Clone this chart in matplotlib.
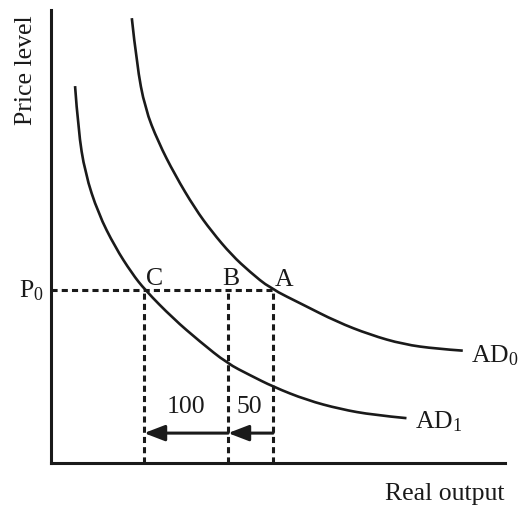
import matplotlib
matplotlib.use("Agg")
import matplotlib.pyplot as plt
from matplotlib.path import Path
from matplotlib.patches import PathPatch

plt.rcParams['font.family'] = ['Liberation Serif', 'DejaVu Serif']
plt.rcParams['mathtext.fontset'] = 'custom'
plt.rcParams['mathtext.rm'] = 'Liberation Serif'
plt.rcParams['mathtext.it'] = 'Liberation Serif:italic'

# curves (output, price level), axes run 0..100
ad0_x = [17.8, 18.9, 20.7, 23.6, 27.3, 31.7, 35.4, 39.8, 43.8, 48.2, 55.6, 62.9, 70.3, 77.6, 85.0, 90.7]
ad0_y = [98.2, 87.9, 78.3, 70.9, 63.6, 56.2, 51.1, 45.9, 42.2, 38.6, 34.9, 31.2, 28.3, 26.2, 25.2, 24.8]
ad1_x = [5.3, 6.0, 7.5, 10.4, 14.1, 17.8, 20.7, 26.9, 32.8, 38.8, 43.8, 49.0, 56.3, 63.7, 71.0, 78.3]
ad1_y = [83.2, 73.5, 64.0, 55.1, 47.7, 41.9, 38.2, 31.9, 26.8, 22.0, 19.4, 16.8, 13.9, 11.9, 10.6, 9.9]

p0 = 38.2
out_a = 48.9
out_b = 39.0
out_c = 20.5
arrow_y = 6.6
shift_labels = ['100', '50']

ink = '#1a1a1a'
fs = 18.5


def smooth_curve(ax, xs, ys, **kw):
    # quadratic bezier through the midpoints so the curve has no kinks
    pts = list(zip(xs, ys))
    verts = [pts[0]]
    codes = [Path.MOVETO]
    for i in range(1, len(pts) - 2):
        mid = ((pts[i][0] + pts[i + 1][0]) / 2, (pts[i][1] + pts[i + 1][1]) / 2)
        verts += [pts[i], mid]
        codes += [Path.CURVE3, Path.CURVE3]
    verts += [pts[-2], pts[-1]]
    codes += [Path.CURVE3, Path.CURVE3]
    ax.add_patch(PathPatch(Path(verts, codes), fill=False, **kw))


fig = plt.figure(figsize=(5.18, 5.08), dpi=100)
ax = fig.add_axes([51 / 518, 45 / 508, 454 / 518, 453 / 508])
ax.set_xlim(0, 100)
ax.set_ylim(0, 100)
ax.set_xticks([])
ax.set_yticks([])
for side in ['top', 'right']:
    ax.spines[side].set_visible(False)
for side in ['left', 'bottom']:
    ax.spines[side].set_linewidth(2.2)
    ax.spines[side].set_color(ink)

# demand curves
smooth_curve(ax, ad0_x, ad0_y, edgecolor=ink, lw=1.9, capstyle='butt', clip_on=False)
smooth_curve(ax, ad1_x, ad1_y, edgecolor=ink, lw=1.9, capstyle='butt', clip_on=False)

# dashed guides
dash = (0, (2.0, 1.35))
ax.plot([0, out_a], [p0, p0], color=ink, lw=2.2, ls=dash)
for xv in [out_c, out_b, out_a]:
    ax.plot([xv, xv], [0, p0], color=ink, lw=2.2, ls=dash)

# shift arrows
style = '-|>,head_length=1.25,head_width=0.48'
for x0, x1 in [(out_a, out_b), (out_b, out_c)]:
    ax.annotate('', xy=(x1, arrow_y), xytext=(x0, arrow_y),
                arrowprops=dict(arrowstyle=style, color=ink, lw=2.2,
                                mutation_scale=10, shrinkA=0, shrinkB=0))

# labels
ax.text(out_c + 0.4, 39.2, 'C', fontsize=fs, color=ink, ha='left', va='baseline')
ax.text(out_b - 1.3, 39.2, 'B', fontsize=fs, color=ink, ha='left', va='baseline')
ax.text(out_a + 0.4, 39.1, 'A', fontsize=fs, color=ink, ha='left', va='baseline')
ax.text((out_c + out_b) / 2, 11.0, shift_labels[0], fontsize=fs, color=ink, ha='center', va='baseline')
ax.text((out_b + out_a) / 2 - 0.2, 11.0, shift_labels[1], fontsize=fs, color=ink, ha='center', va='baseline')
ax.text(ad0_x[-1] + 1.8, 22.3, r'$\mathrm{AD}_\mathrm{0}$', fontsize=fs, color=ink, ha='left', va='baseline')
ax.text(ad1_x[-1] + 1.8, 7.7, r'$\mathrm{AD}_\mathrm{1}$', fontsize=fs, color=ink, ha='left', va='baseline')
ax.text(-1.5, 36.6, r'$\mathrm{P}_\mathrm{0}$', fontsize=fs, color=ink, ha='right', va='baseline')
ax.text(99.8, -8.2, 'Real output', fontsize=fs, color=ink, ha='right', va='baseline')
ax.text(-4.2, 86.8, 'Price level', fontsize=fs, color=ink, rotation=90,
        rotation_mode='anchor', ha='center', va='baseline')

fig.savefig('out.png', dpi=100)
